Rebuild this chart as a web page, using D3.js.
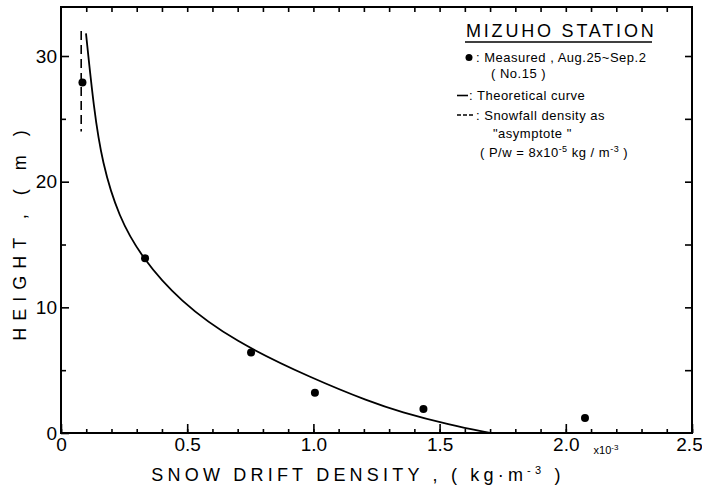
<!DOCTYPE html>
<html>
<head>
<meta charset="utf-8">
<script src="https://cdn.jsdelivr.net/npm/d3@7"></script>
<style>
  body { margin: 0; background: #fff; }
  text { font-family: 'Liberation Sans', 'DejaVu Sans', sans-serif; fill: #000; }
</style>
</head>
<body>
<div id="chart"></div>
<script>
// measured snow drift density (x10^-3 kg/m3) vs height (m)
const measuredX = [0.085, 0.333, 0.753, 1.006, 1.436, 2.076]
const measuredY = [27.9, 13.9, 6.4, 3.2, 1.9, 1.2]

// theoretical curve
const curveX = [0.099, 0.13, 0.163, 0.228, 0.322, 0.47, 0.685, 1.0, 1.224, 1.343, 1.541, 1.70]
const curveY = [31.8, 25.8, 21.5, 17.2, 13.9, 10.5, 7.3, 4.3, 2.49, 1.69, 0.64, 0]

// snowfall density asymptote
const asymX = [0.08, 0.08]
const asymY = [32, 24]

const xLabels = ['0', '0.5', '1.0', '1.5', '2.0', '2.5']
const yLabels = ['0', '10', '20', '30']

const width = 702
const height = 490
const margin = { top: 7, right: 10, bottom: 57, left: 61 }

const svg = d3.select('#chart')
  .append('svg')
  .attr('width', width)
  .attr('height', height)

const x = d3.scaleLinear().domain([0, 2.5]).range([margin.left, width - margin.right])
const y = d3.scaleLinear().domain([0, 33.9]).range([height - margin.bottom, margin.top])

const minorX = d3.range(0, 26).map(i => i / 10)
const majorX = xLabels.map(Number)
const minorY = [5, 15, 25]
const majorY = yLabels.map(Number)

function styleAxis (g) {
  g.select('.domain').remove()
  g.selectAll('line').attr('stroke', '#000').attr('stroke-width', 1.6)
}

// bottom axis
svg.append('g')
  .attr('transform', `translate(0,${y(0)})`)
  .call(d3.axisBottom(x).tickValues(minorX).tickSize(-4).tickFormat(''))
  .call(styleAxis)
svg.append('g')
  .attr('transform', `translate(0,${y(0)})`)
  .call(d3.axisBottom(x).tickValues(majorX).tickSize(-9).tickPadding(5)
    .tickFormat((d, i) => xLabels[i]))
  .call(styleAxis)
  .selectAll('text')
  .attr('font-size', 19)
  .attr('dx', (d, i) => i === xLabels.length - 1 ? -3 : 0)

// top axis
svg.append('g')
  .attr('transform', `translate(0,${y.range()[1]})`)
  .call(d3.axisTop(x).tickValues(minorX.slice(1, -1)).tickSize(-5).tickFormat(''))
  .call(styleAxis)

// left axis
svg.append('g')
  .attr('transform', `translate(${x(0)},0)`)
  .call(d3.axisLeft(y).tickValues(minorY).tickSize(-5).tickFormat(''))
  .call(styleAxis)
svg.append('g')
  .attr('transform', `translate(${x(0)},0)`)
  .call(d3.axisLeft(y).tickValues(majorY).tickSize(-8).tickPadding(4)
    .tickFormat((d, i) => yLabels[i]))
  .call(styleAxis)
  .selectAll('text')
  .attr('font-size', 19)

// right axis
svg.append('g')
  .attr('transform', `translate(${x(2.5)},0)`)
  .call(d3.axisRight(y).tickValues(minorY.concat(majorY).filter(d => d > 0)).tickSize(-7).tickFormat(''))
  .call(styleAxis)

// frame
svg.append('rect')
  .attr('x', x(0))
  .attr('y', y(33.9))
  .attr('width', x(2.5) - x(0))
  .attr('height', y(0) - y(33.9))
  .attr('fill', 'none')
  .attr('stroke', '#000')
  .attr('stroke-width', 2)

// x10^-3 multiplier
svg.append('text')
  .attr('x', x(2.11))
  .attr('y', y(0) + 21)
  .attr('font-size', 11)
  .text('x10')
  .append('tspan')
  .attr('dy', -4)
  .attr('font-size', 8)
  .text('-3')

// theoretical curve
const line = d3.line()
  .x((d, i) => x(curveX[i]))
  .y(d => y(d))
  .curve(d3.curveBasis)

svg.append('path')
  .attr('d', line(curveY))
  .attr('fill', 'none')
  .attr('stroke', '#000')
  .attr('stroke-width', 1.8)

// asymptote
svg.append('line')
  .attr('x1', x(asymX[0]))
  .attr('x2', x(asymX[1]))
  .attr('y1', y(asymY[0]))
  .attr('y2', y(asymY[1]))
  .attr('stroke', '#000')
  .attr('stroke-width', 1.6)
  .attr('stroke-dasharray', '9,5')

// measured points
svg.selectAll('circle.pt')
  .data(measuredY)
  .enter()
  .append('circle')
  .attr('class', 'pt')
  .attr('cx', (d, i) => x(measuredX[i]))
  .attr('cy', d => y(d))
  .attr('r', 4)
  .attr('fill', '#000')

// axis titles
svg.append('text')
  .attr('x', 358)
  .attr('y', 481)
  .attr('text-anchor', 'middle')
  .attr('font-size', 18)
  .attr('letter-spacing', 4.2)
  .text('SNOW DRIFT DENSITY , ( kg·m')
  .append('tspan')
  .attr('dy', -7)
  .attr('font-size', 11)
  .text('-3')
  .append('tspan')
  .attr('dy', 7)
  .attr('font-size', 18)
  .text('  )')

svg.append('text')
  .attr('transform', 'translate(26,232) rotate(-90)')
  .attr('text-anchor', 'middle')
  .attr('font-size', 18)
  .attr('letter-spacing', 7)
  .text('HEIGHT , ( m )')

// legend
const legend = svg.append('g')
legend.append('text')
  .attr('x', 466)
  .attr('y', 37)
  .attr('font-size', 18)
  .attr('letter-spacing', 2.8)
  .text('MIZUHO STATION')
legend.append('line')
  .attr('x1', 465).attr('x2', 652)
  .attr('y1', 42).attr('y2', 42)
  .attr('stroke', '#000').attr('stroke-width', 1.5)

const fs = 13
const ls = 0.5

legend.append('circle')
  .attr('cx', 469).attr('cy', 57.5).attr('r', 3.5).attr('fill', '#000')
legend.append('text')
  .attr('x', 476).attr('y', 62)
  .attr('font-size', fs).attr('letter-spacing', ls)
  .text(': Measured , Aug.25~Sep.2')
legend.append('text')
  .attr('x', 491).attr('y', 78)
  .attr('font-size', fs).attr('letter-spacing', ls)
  .text('( No.15 )')

legend.append('line')
  .attr('x1', 457).attr('x2', 468)
  .attr('y1', 95.5).attr('y2', 95.5)
  .attr('stroke', '#000').attr('stroke-width', 1.6)
legend.append('text')
  .attr('x', 469).attr('y', 100)
  .attr('font-size', fs).attr('letter-spacing', ls)
  .text(': Theoretical curve')

legend.append('line')
  .attr('x1', 457).attr('x2', 475)
  .attr('y1', 115).attr('y2', 115)
  .attr('stroke', '#000').attr('stroke-width', 1.4)
  .attr('stroke-dasharray', '4,2')
legend.append('text')
  .attr('x', 476).attr('y', 120)
  .attr('font-size', fs).attr('letter-spacing', ls)
  .text(': Snowfall density as')
legend.append('text')
  .attr('x', 493).attr('y', 138)
  .attr('font-size', fs).attr('letter-spacing', ls)
  .text('"asymptote "')

const pw = legend.append('text')
  .attr('x', 480).attr('y', 157)
  .attr('font-size', fs).attr('letter-spacing', ls)
pw.append('tspan').text('( P/w = 8x10')
pw.append('tspan').attr('dy', -5).attr('font-size', 9).text('-5')
pw.append('tspan').attr('dy', 5).text('  kg / m')
pw.append('tspan').attr('dy', -5).attr('font-size', 9).text('-3')
pw.append('tspan').attr('dy', 5).text('    )')
</script>
</body>
</html>
